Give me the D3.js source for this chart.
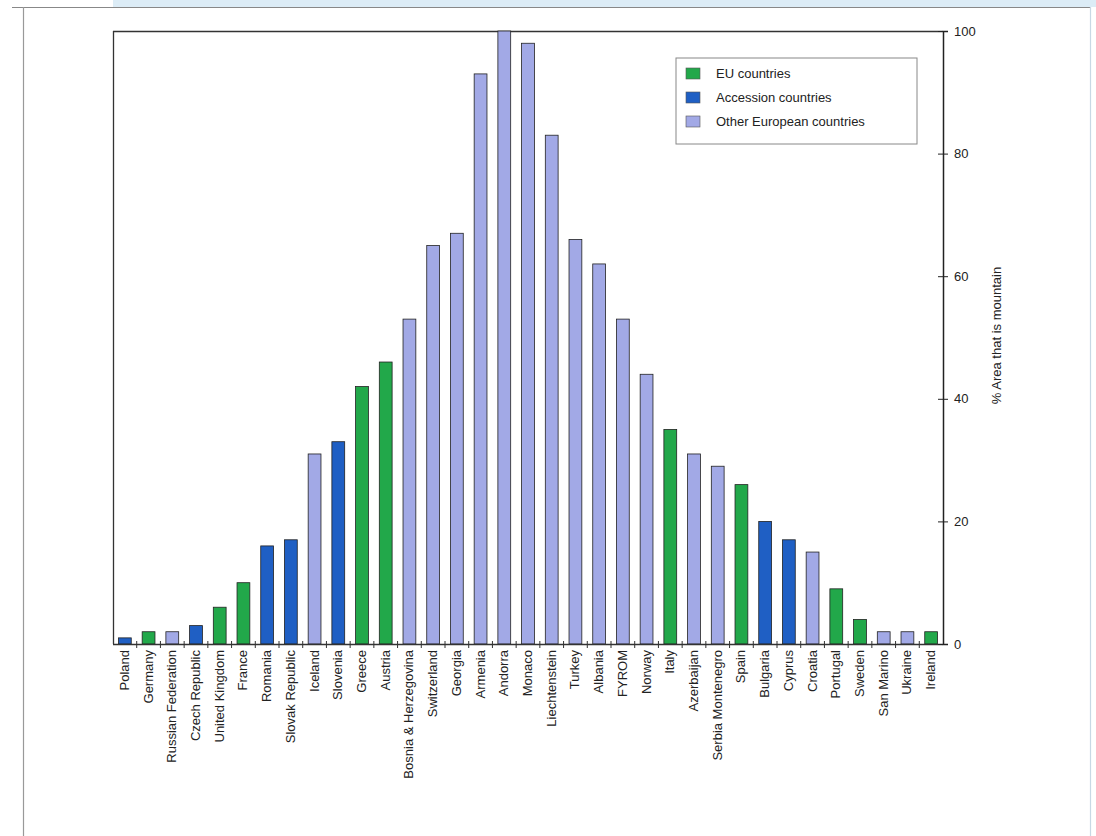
<!DOCTYPE html>
<html><head><meta charset="utf-8">
<script src="https://cdn.jsdelivr.net/npm/d3@7"></script>
<style>body{margin:0;background:#fff;}svg{display:block;font-family:"Liberation Sans",Arial,sans-serif;}</style>
</head><body>
<svg id="c" width="1096" height="836"></svg>
<script>
const countries = ["Poland","Germany","Russian Federation","Czech Republic","United Kingdom","France","Romania","Slovak Republic","Iceland","Slovenia","Greece","Austria","Bosnia & Herzegovina","Switzerland","Georgia","Armenia","Andorra","Monaco","Liechtenstein","Turkey","Albania","FYROM","Norway","Italy","Azerbaijan","Serbia Montenegro","Spain","Bulgaria","Cyprus","Croatia","Portugal","Sweden","San Marino","Ukraine","Ireland"];
const values = [1,2,2,3,6,10,16,17,31,33,42,46,53,65,67,93,100,98,83,66,62,53,44,35,31,29,26,20,17,15,9,4,2,2,2];
const groups = ["A","EU","O","A","EU","EU","A","A","O","A","EU","EU","O","O","O","O","O","O","O","O","O","O","O","EU","O","O","EU","A","A","O","EU","EU","O","O","EU"];
const groupKeys = ["EU","A","O"];
const groupLabels = ["EU countries","Accession countries","Other European countries"];
const groupColors = ["#22a84a","#1f5fc4","#a2a9e6"];
const yTicks = [0,20,40,60,80,100];
const yTitle = "% Area that is mountain";

const svg = d3.select("#c");
// decorative page frame
svg.append("rect").attr("x",113).attr("y",0).attr("width",983).attr("height",7).attr("fill","#dcecf6");
svg.append("line").attr("x1",12).attr("x2",1090).attr("y1",7.5).attr("y2",7.5).attr("stroke","#888").attr("stroke-width",1.2);
svg.append("line").attr("x1",23.5).attr("x2",23.5).attr("y1",7).attr("y2",836).attr("stroke","#999").attr("stroke-width",1.2);
svg.append("line").attr("x1",1090.5).attr("x2",1090.5).attr("y1",7).attr("y2",836).attr("stroke","#c8d8e4").attr("stroke-width",1.2);

const L=113, R=943, T=31, B=644;
const x = d3.scaleBand().domain(countries).range([L,R]).paddingInner(0.46).paddingOuter(0.23);
const y = d3.scaleLinear().domain([0,100]).range([B,T]);
const color = d3.scaleOrdinal().domain(groupKeys).range(groupColors);

// frame lines top & left
svg.append("line").attr("x1",L).attr("x2",R).attr("y1",T+0.5).attr("y2",T+0.5).attr("stroke","#333").attr("stroke-width",1.3);
svg.append("line").attr("x1",L+0.5).attr("x2",L+0.5).attr("y1",T).attr("y2",B).attr("stroke","#333").attr("stroke-width",1.3);

svg.append("g").selectAll("rect").data(countries).join("rect")
  .attr("x",d=>x(d)).attr("width",x.bandwidth())
  .attr("y",(d,i)=>y(values[i])).attr("height",(d,i)=>B-y(values[i]))
  .attr("fill",(d,i)=>color(groups[i])).attr("stroke","#222").attr("stroke-width",0.8);

// x axis
const step = x.step();
const xAxisG = svg.append("g");
xAxisG.append("line").attr("x1",L).attr("x2",R).attr("y1",B+0.5).attr("y2",B+0.5).attr("stroke","#333").attr("stroke-width",1.3);
const bounds = d3.range(1,countries.length).map(i=>x(countries[i]) - x.step()*x.paddingInner()/2);
xAxisG.selectAll("line.t").data(bounds).join("line").attr("class","t")
  .attr("x1",d=>d).attr("x2",d=>d).attr("y1",B-3).attr("y2",B+4).attr("stroke","#333").attr("stroke-width",1);
xAxisG.selectAll("text").data(countries).join("text")
  .attr("transform",d=>`translate(${x(d)+x.bandwidth()/2+4},${B+6}) rotate(-90)`)
  .attr("text-anchor","end").attr("font-size",13).attr("fill","#222").text(d=>d);

// y axis on right
const yAxis = svg.append("g").attr("transform",`translate(${R},0)`)
  .call(d3.axisRight(y).tickValues(yTicks).tickSize(5).tickPadding(6));
yAxis.select(".domain").attr("stroke","#222").attr("stroke-width",1.5);
yAxis.selectAll(".tick line").attr("x1",-5).attr("stroke","#222");
yAxis.selectAll(".tick text").attr("font-size",13).attr("fill","#222").attr("font-family","Liberation Sans, Arial, sans-serif");
svg.append("text").attr("transform",`translate(1001,${(T+B)/2 -2}) rotate(-90)`)
  .attr("text-anchor","middle").attr("font-size",13).attr("fill","#222").text(yTitle);

// legend
const lg = svg.append("g").attr("transform","translate(676,58)");
lg.append("rect").attr("width",241).attr("height",86).attr("fill","#fff").attr("stroke","#888").attr("stroke-width",1);
groupKeys.forEach((k,i)=>{
  lg.append("rect").attr("x",10).attr("y",10+i*24).attr("width",14).attr("height",11).attr("fill",groupColors[i]).attr("stroke","#555").attr("stroke-width",0.6);
  lg.append("text").attr("x",40).attr("y",20+i*24).attr("font-size",13).attr("fill","#222").text(groupLabels[i]);
});
</script>
</body></html>
